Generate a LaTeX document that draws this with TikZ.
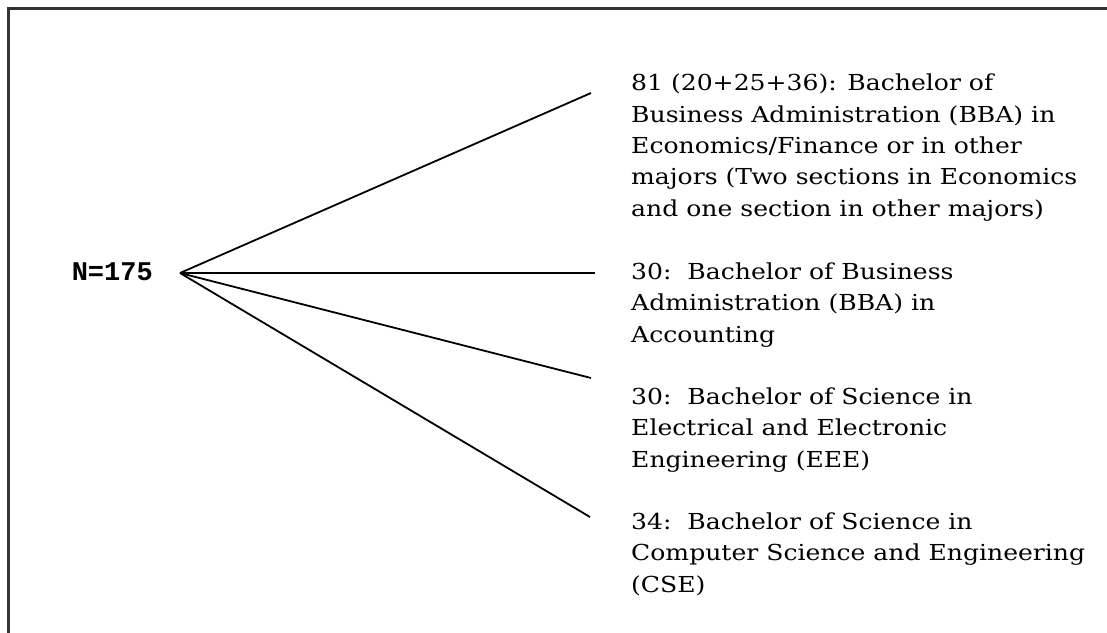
\documentclass[tikz,border=0pt]{standalone}
\usepackage{fontspec}
\setmainfont{DejaVu Serif}[FakeStretch=1.14]
\newfontfamily\countfont{Liberation Mono}
\usetikzlibrary{positioning}
\tikzset{
	x=1pt, y=-1pt, % one unit is one pixel of the page, y runs down
	frame/.style={line width=3pt, black!80}, % the box round the whole figure
	branch/.style={line width=1.8pt, black}, % the lines that fan out from N
	major/.style={anchor=base west, align=left, inner sep=0pt, font=\fontsize{22}{31.3}\selectfont}, % the text of each group, placed by its last line
	total/.style={anchor=base east, inner sep=0pt, font=\countfont\bfseries\fontsize{27}{29}\selectfont}, % the sample size
}
\begin{document}
\begin{tikzpicture}
	\useasboundingbox (0,0) rectangle (1107,632);
	\clip (0,0) rectangle (1107,632);
	\draw[frame] (8,8) rectangle (1120,645);

	\node[total] (size) at (153,280) {N=175};
	\coordinate (hub) at (180,273);
	\coordinate (e1) at (591,93);
	\coordinate (e2) at (595,273);
	\coordinate (e3) at (591,378);
	\coordinate (e4) at (590,517);

	\node[major] (bba) at (631,216) {81 (20+25+36): Bachelor of\\Business Administration (BBA) in\\Economics/Finance or in other\\majors (Two sections in Economics\\and one section in other majors)};
	\node[major] (acc) at (631,342) {30:\ \ Bachelor of Business\\Administration (BBA) in\\Accounting};
	\node[major] (eee) at (631,467) {30:\ \ Bachelor of Science in\\Electrical and Electronic\\Engineering (EEE)};
	\node[major] (cse) at (631,592) {34:\ \ Bachelor of Science in\\Computer Science and Engineering\\(CSE)};

	\foreach \e in {e1,e2,e3,e4}
		\draw[branch] (hub) -- (\e);
\end{tikzpicture}
\end{document}
